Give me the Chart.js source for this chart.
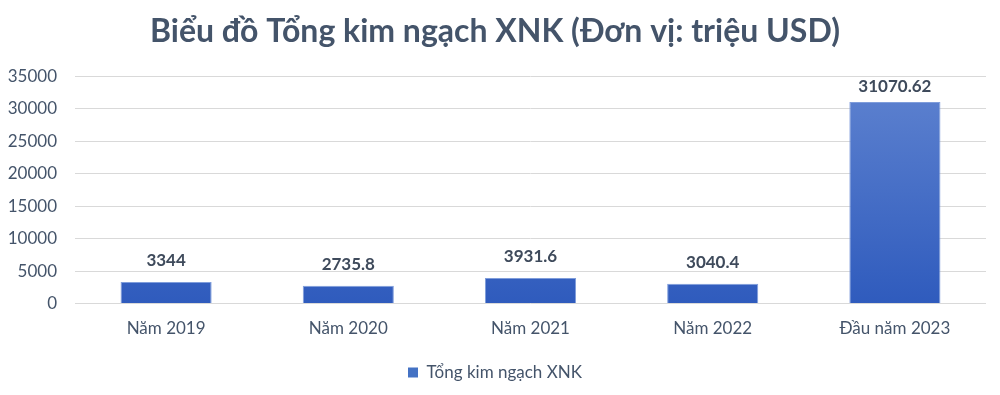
<!DOCTYPE html>
<html>
<head>
<meta charset="utf-8">
<script src="https://cdn.jsdelivr.net/npm/chart.js@4.4.0/dist/chart.umd.min.js"></script>
<style>
  html, body { margin: 0; padding: 0; background: #fff; }
  #wrap { width: 1000px; height: 395px; }
</style>
</head>
<body>
<div id="wrap"><canvas id="c"></canvas></div>
<script>
const categories = ['Năm 2019', 'Năm 2020', 'Năm 2021', 'Năm 2022', 'Đầu năm 2023'];
const values = [3344, 2735.8, 3931.6, 3040.4, 31070.62];
const valueLabels = ['3344', '2735.8', '3931.6', '3040.4', '31070.62'];
const seriesName = 'Tổng kim ngạch XNK';

const textColor = '#44546a';
const fontFamily = 'Lato, "Open Sans", sans-serif';

// nhãn giá trị trên đầu cột
const labelPlugin = {
  id: 'barLabels',
  afterDatasetsDraw(chart) {
    const ctx = chart.ctx;
    const meta = chart.getDatasetMeta(0);
    ctx.save();
    ctx.font = 'bold 17px ' + fontFamily;
    ctx.fillStyle = '#3e4a5b';
    ctx.textAlign = 'center';
    ctx.textBaseline = 'bottom';
    meta.data.forEach((bar, i) => {
      const small = values[i] < 10000;
      const y = bar.y - (small ? 13 : 7);
      ctx.fillText(valueLabels[i], bar.x, y);
    });
    ctx.restore();
  }
};

function barGradient(context) {
  const chart = context.chart;
  const area = chart.chartArea;
  if (!area) return '#4472c4';
  const g = chart.ctx.createLinearGradient(0, area.top, 0, area.bottom);
  g.addColorStop(0, '#5f83d0');
  g.addColorStop(1, '#2f5bbd');
  return g;
}

new Chart(document.getElementById('c'), {
  type: 'bar',
  data: {
    labels: categories,
    datasets: [{
      label: seriesName,
      data: values,
      backgroundColor: barGradient,
      borderColor: '#7f9ddb',
      borderWidth: 1,
      categoryPercentage: 1.0,
      barPercentage: 0.5
    }]
  },
  options: {
    responsive: true,
    maintainAspectRatio: false,
    animation: false,
    layout: { padding: { left: 4, right: 14, top: 0, bottom: 4 } },
    plugins: {
      title: {
        display: true,
        text: 'Biểu đồ Tổng kim ngạch XNK (Đơn vị: triệu USD)',
        color: textColor,
        font: { family: fontFamily, size: 32, weight: 'bold' },
        padding: { top: 12, bottom: 26 }
      },
      legend: {
        position: 'bottom',
        labels: {
          color: textColor,
          font: { family: fontFamily, size: 17 },
          boxWidth: 10,
          boxHeight: 10,
          padding: 10,
          generateLabels: () => [{
            text: seriesName,
            fillStyle: '#4472c4',
            strokeStyle: '#4472c4',
            lineWidth: 0,
            fontColor: textColor
          }]
        }
      },
      tooltip: { enabled: false }
    },
    scales: {
      x: {
        grid: { display: false, drawTicks: false },
        border: { display: false },
        ticks: {
          color: textColor,
          font: { family: fontFamily, size: 17 },
          padding: 15
        }
      },
      y: {
        min: 0,
        max: 35000,
        grid: { color: '#d9d9d9', drawTicks: false },
        border: { display: false },
        afterFit: (scale) => { scale.width = 71; },
        ticks: {
          stepSize: 5000,
          color: textColor,
          font: { family: fontFamily, size: 17 },
          padding: 18,
          callback: (v) => String(v)
        }
      }
    }
  },
  plugins: [labelPlugin]
});
</script>
</body>
</html>
